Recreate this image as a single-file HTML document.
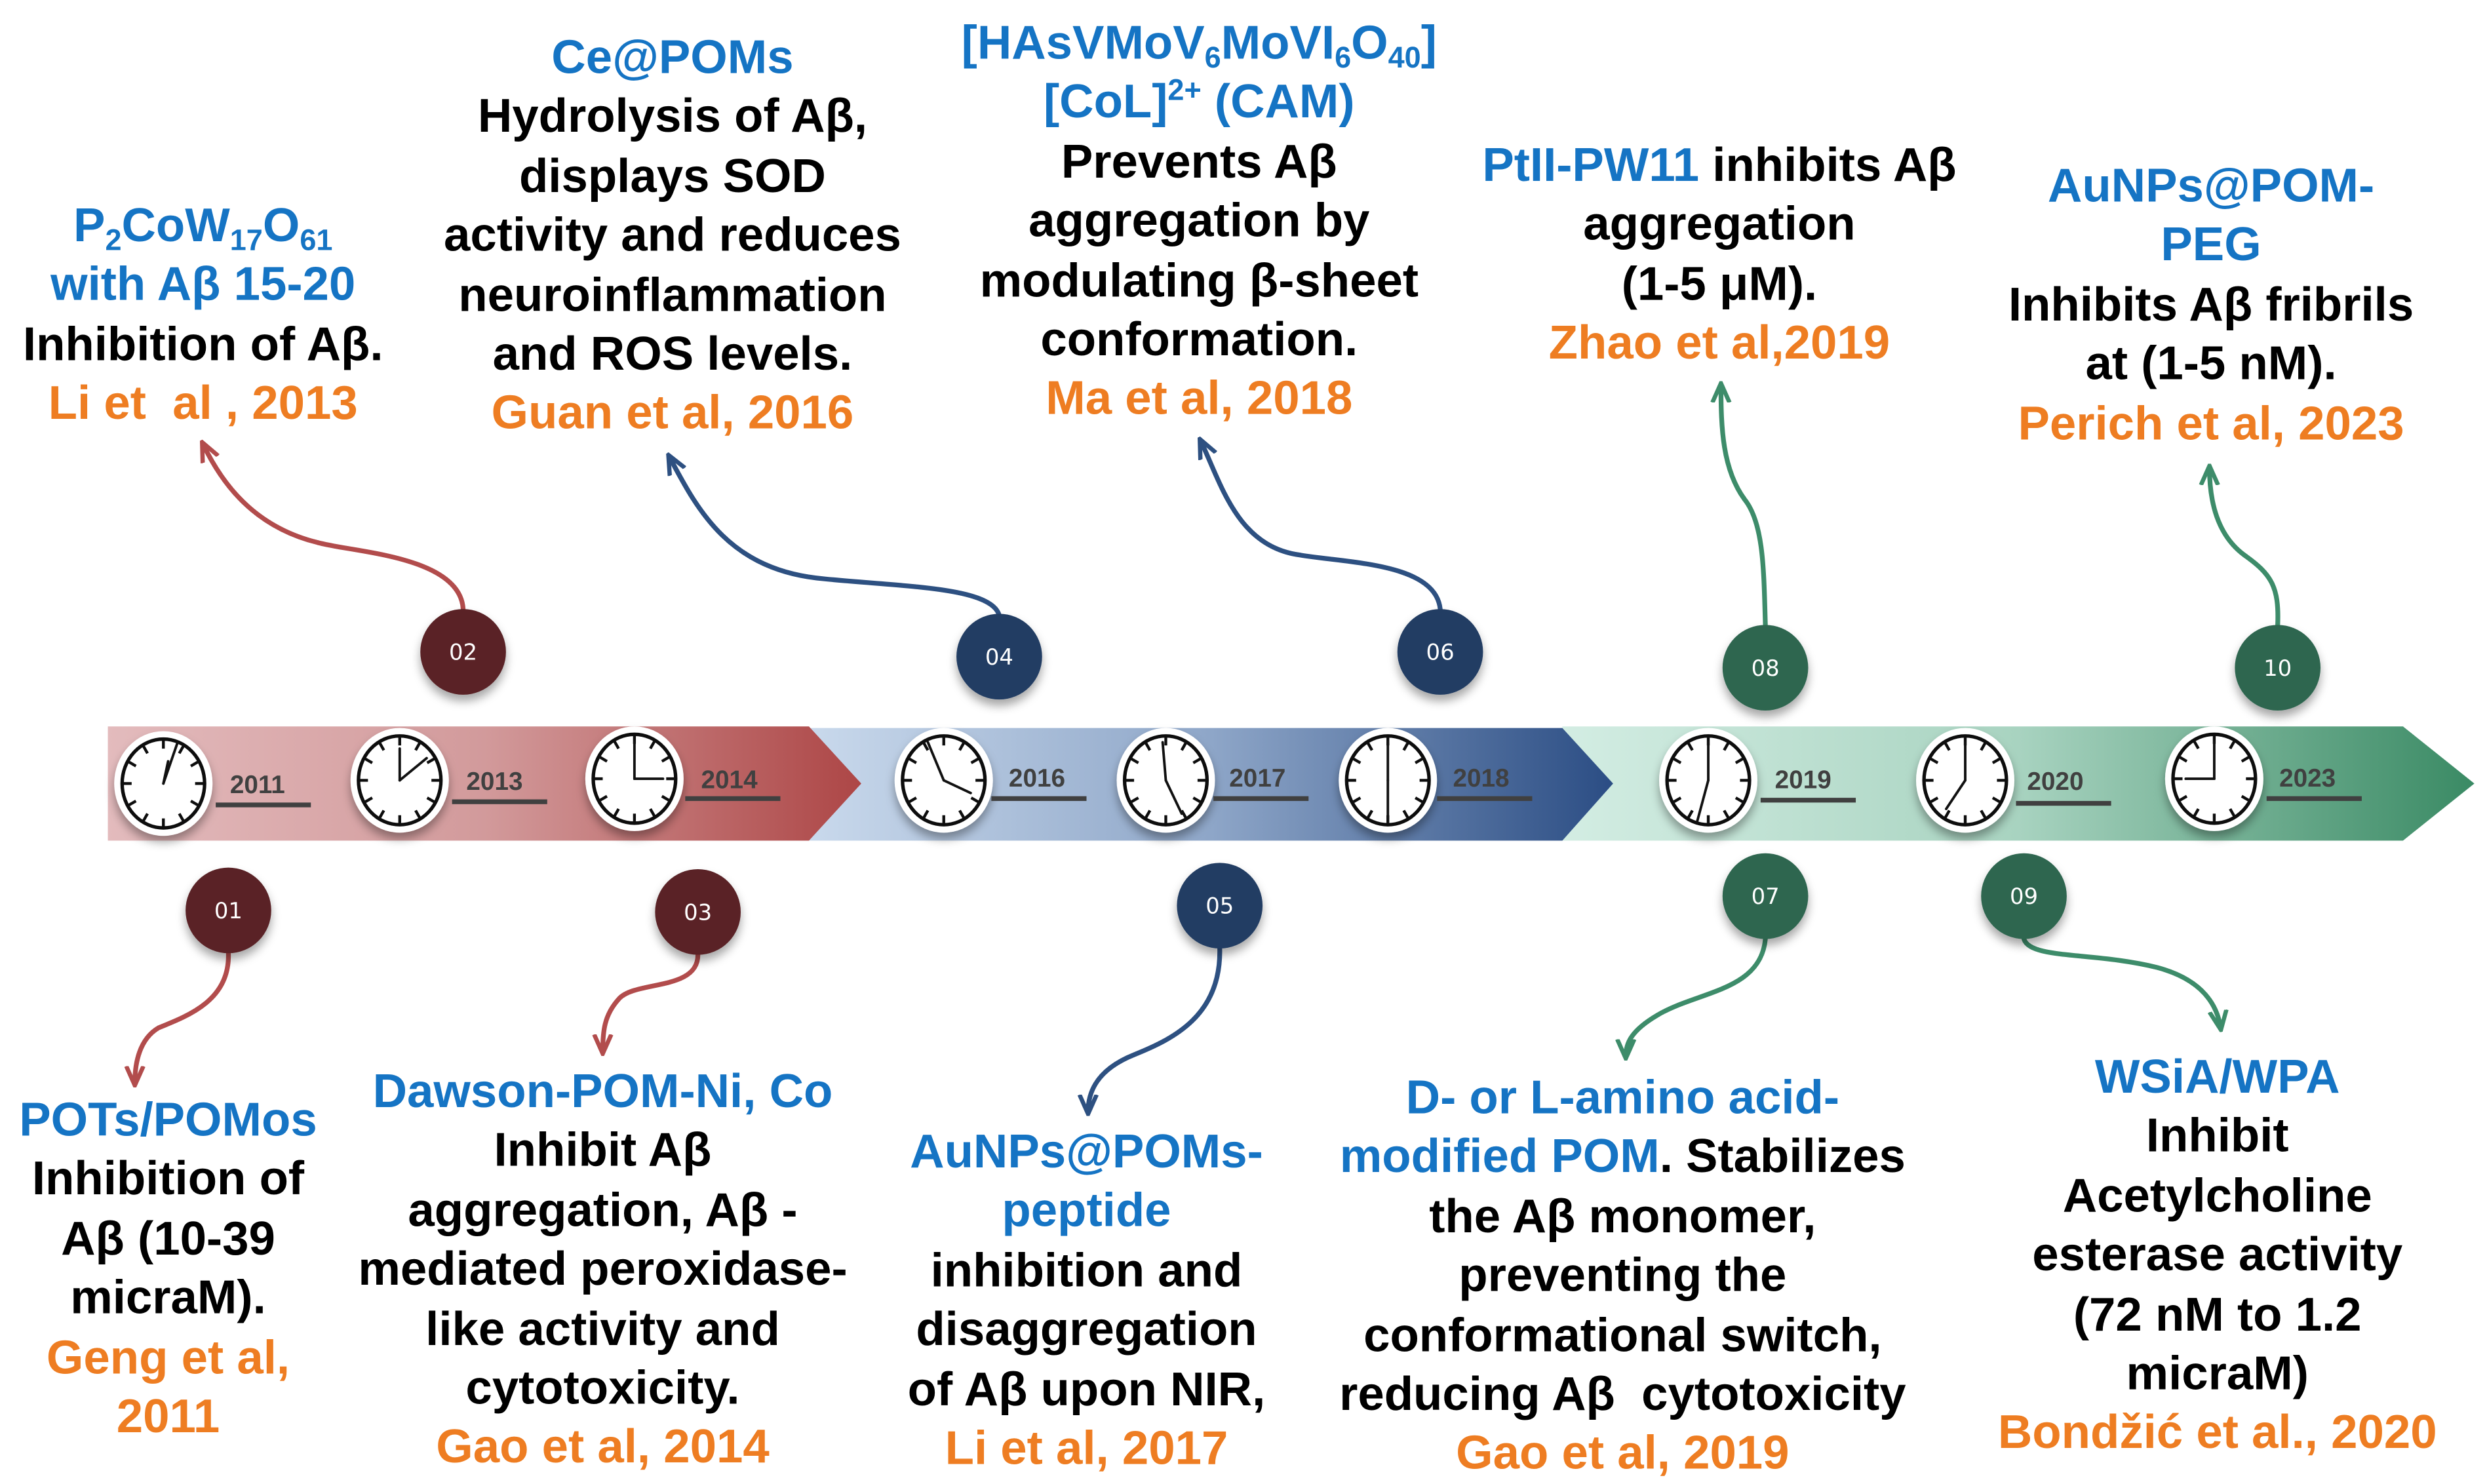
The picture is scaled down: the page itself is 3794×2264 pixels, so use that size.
<!DOCTYPE html>
<html><head><meta charset="utf-8">
<style>
html,body{margin:0;padding:0;background:#fff;}
#wrap{width:3794px;height:2264px;overflow:hidden;position:relative;}
#s{position:absolute;left:0;top:0;width:1568px;height:936px;transform:scale(2.4197);transform-origin:0 0;}
.t{position:absolute;width:460px;text-align:center;font-family:"Liberation Sans",Arial,sans-serif;font-weight:bold;font-size:30px;line-height:37.4px;color:#000;white-space:nowrap;}
.b{color:#1574c4}.o{color:#ee7d22}
sub,sup{font-size:0.62em;line-height:0}
sub{vertical-align:-0.3em}
</style></head><body>
<div id="wrap"><div id="s">
<svg width="1568" height="936" style="position:absolute;left:0;top:0">
<defs>
<linearGradient id="gr" x1="0" x2="1"><stop offset="0" stop-color="#e3bbbd"/><stop offset="0.5" stop-color="#d29a9b"/><stop offset="1" stop-color="#ad4646"/></linearGradient>
<linearGradient id="gb" x1="0" x2="1"><stop offset="0" stop-color="#c9d9ec"/><stop offset="0.5" stop-color="#8ea6c8"/><stop offset="1" stop-color="#2b4d84"/></linearGradient>
<linearGradient id="gg" x1="0" x2="1"><stop offset="0" stop-color="#d3ede3"/><stop offset="0.5" stop-color="#a8d3c0"/><stop offset="1" stop-color="#3a8a64"/></linearGradient>
<filter id="sh" x="-30%" y="-30%" width="160%" height="170%"><feDropShadow dx="0" dy="4" stdDeviation="3" flood-color="#000" flood-opacity="0.35"/></filter>
<g id="clk">
<ellipse cx="0" cy="0" rx="31" ry="33" fill="#fff"/>
<ellipse cx="0" cy="0" rx="26" ry="28" fill="#fff" stroke="#111" stroke-width="2.2"/>
<g stroke="#111" stroke-width="1.8">
<line x1="0" y1="-27" x2="0" y2="-22"/><line x1="0" y1="27" x2="0" y2="22"/><line x1="-25" y1="0" x2="-20" y2="0"/><line x1="25" y1="0" x2="20" y2="0"/>
<line x1="12.5" y1="-23.4" x2="10" y2="-19"/><line x1="21.6" y1="-13.5" x2="17.3" y2="-11"/><line x1="21.6" y1="13.5" x2="17.3" y2="11"/><line x1="12.5" y1="23.4" x2="10" y2="19"/>
<line x1="-12.5" y1="-23.4" x2="-10" y2="-19"/><line x1="-21.6" y1="-13.5" x2="-17.3" y2="-11"/><line x1="-21.6" y1="13.5" x2="-17.3" y2="11"/><line x1="-12.5" y1="23.4" x2="-10" y2="19"/>
</g></g>
<marker id="ar" viewBox="0 0 10 10" refX="8" refY="5" markerWidth="4.5" markerHeight="4.5" orient="auto-start-reverse"><path d="M0,1 L9,5 L0,9" fill="none" stroke="context-stroke" stroke-width="2"/></marker>
</defs>
<polygon points="985,458 1515,458 1560,494 1515,530 985,530" fill="url(#gg)"/>
<polygon points="510,459 985,459 1017,494 985,530 510,530" fill="url(#gb)"/>
<polygon points="68,458 510,458 543,494 510,530 68,530" fill="url(#gr)"/>
<g filter="url(#sh)">
<use href="#clk" x="103" y="494"/><use href="#clk" x="252" y="492"/><use href="#clk" x="400" y="491"/>
<use href="#clk" x="595" y="492"/><use href="#clk" x="735" y="492"/><use href="#clk" x="875" y="492"/>
<use href="#clk" x="1077" y="492"/><use href="#clk" x="1239" y="492"/><use href="#clk" x="1396" y="491"/>
</g>
<g stroke="#111" stroke-width="1.6" stroke-linecap="round">
<line x1="103" y1="494" x2="112" y2="468"/><line x1="103" y1="494" x2="106" y2="480"/>
<line x1="252" y1="492" x2="252" y2="472"/><line x1="252" y1="492" x2="269" y2="478"/>
<line x1="400" y1="491" x2="400" y2="468"/><line x1="400" y1="491" x2="418" y2="491"/>
<line x1="595" y1="492" x2="585" y2="468"/><line x1="595" y1="492" x2="612" y2="500"/>
<line x1="735" y1="492" x2="733" y2="468"/><line x1="735" y1="492" x2="745" y2="513"/>
<line x1="875" y1="492" x2="875" y2="468"/><line x1="875" y1="492" x2="875" y2="516"/>
<line x1="1077" y1="492" x2="1077" y2="468"/><line x1="1077" y1="492" x2="1070" y2="518"/>
<line x1="1239" y1="492" x2="1239" y2="468"/><line x1="1239" y1="492" x2="1227" y2="510"/>
<line x1="1396" y1="491" x2="1396" y2="468"/><line x1="1396" y1="491" x2="1378" y2="491"/>
</g>
<g font-family="Liberation Sans, Arial, sans-serif" font-weight="bold" font-size="16" fill="#404040">
<text x="145" y="500">2011</text><rect x="136" y="506" width="60" height="3" fill="#404040"/>
<text x="294" y="498">2013</text><rect x="285" y="504" width="60" height="3" fill="#404040"/>
<text x="442" y="497">2014</text><rect x="432" y="502" width="60" height="3" fill="#404040"/>
<text x="636" y="496">2016</text><rect x="625" y="502" width="60" height="3" fill="#404040"/>
<text x="775" y="496">2017</text><rect x="765" y="502" width="60" height="3" fill="#404040"/>
<text x="916" y="496">2018</text><rect x="906" y="502" width="60" height="3" fill="#404040"/>
<text x="1119" y="497">2019</text><rect x="1110" y="503" width="60" height="3" fill="#404040"/>
<text x="1278" y="498">2020</text><rect x="1271" y="505" width="60" height="3" fill="#404040"/>
<text x="1437" y="496">2023</text><rect x="1429" y="502" width="60" height="3" fill="#404040"/>
</g>
<g fill="none" stroke-width="3" stroke-linecap="round" marker-end="url(#ar)">
<path d="M292,384 C290,350 220,348 200,342 C160,332 140,305 128,280" stroke="#b24c4c"/>
<path d="M630,388 C625,370 570,370 520,365 C460,360 440,322 422,288" stroke="#2d5081"/>
<path d="M908,384 C905,355 850,355 820,350 C780,345 770,305 757,278" stroke="#2d5081"/>
<path d="M1113,394 C1112,360 1112,330 1100,315 C1086,296 1085,270 1085,243" stroke="#3d8c6a"/>
<path d="M1436,394 C1437,370 1432,362 1415,350 C1396,336 1393,312 1393,295" stroke="#3d8c6a"/>
<path d="M144,601 C145,630 120,640 100,648 C88,655 85,670 85,683" stroke="#b24c4c"/>
<path d="M440,602 C440,625 400,618 390,630 C381,640 380,650 380,663" stroke="#b24c4c"/>
<path d="M769,598 C770,640 740,655 715,665 C690,675 686,690 686,701" stroke="#2d5081"/>
<path d="M1113,592 C1110,625 1070,625 1045,640 C1028,650 1025,658 1025,666" stroke="#3d8c6a"/>
<path d="M1276,592 C1280,605 1320,600 1360,610 C1390,618 1398,635 1400,648" stroke="#3d8c6a"/>
</g>
<g filter="url(#sh)">
<circle cx="292" cy="411" r="27" fill="#5a2426"/><circle cx="630" cy="414" r="27" fill="#213c63"/>
<circle cx="908" cy="411" r="27" fill="#213c63"/><circle cx="1113" cy="421" r="27" fill="#2d6650"/>
<circle cx="1436" cy="421" r="27" fill="#2d6650"/>
<circle cx="144" cy="574" r="27" fill="#5a2426"/><circle cx="440" cy="575" r="27" fill="#5a2426"/>
<circle cx="769" cy="571" r="27" fill="#213c63"/><circle cx="1113" cy="565" r="27" fill="#2d6650"/>
<circle cx="1276" cy="565" r="27" fill="#2d6650"/>
</g>
<g font-family="DejaVu Sans, sans-serif" font-size="14" fill="#fff" text-anchor="middle">
<text x="292" y="416">02</text><text x="630" y="419">04</text><text x="908" y="416">06</text><text x="1113" y="426">08</text><text x="1436" y="426">10</text>
<text x="144" y="579">01</text><text x="440" y="580">03</text><text x="769" y="576">05</text><text x="1113" y="570">07</text><text x="1276" y="570">09</text>
</g>
</svg>

<div class="t" style="left:-102px;top:124px"><span class="b">P<sub>2</sub>CoW<sub>17</sub>O<sub>61</sub></span><br><span class="b">with Aβ 15-20</span><br>Inhibition of Aβ.<br><span class="o">Li et&nbsp; al , 2013</span></div>
<div class="t" style="left:194px;top:18px"><span class="b">Ce@POMs</span><br>Hydrolysis of Aβ,<br>displays SOD<br>activity and reduces<br>neuroinflammation<br>and ROS levels.<br><span class="o">Guan et al, 2016</span></div>
<div class="t" style="left:526px;top:9px"><span class="b">[HAsVMoV<sub>6</sub>MoVI<sub>6</sub>O<sub>40</sub>]</span><br><span class="b">[CoL]<sup>2+</sup> (CAM)</span><br>Prevents Aβ<br>aggregation by<br>modulating β-sheet<br>conformation.<br><span class="o">Ma et al, 2018</span></div>
<div class="t" style="left:854px;top:86px"><span class="b">PtII-PW11</span> inhibits Aβ<br>aggregation<br>(1-5 μM).<br><span class="o">Zhao et al,2019</span></div>
<div class="t" style="left:1164px;top:99px"><span class="b">AuNPs@POM-</span><br><span class="b">PEG</span><br>Inhibits Aβ fribrils<br>at (1-5 nM).<br><span class="o">Perich et al, 2023</span></div>

<div class="t" style="left:-124px;top:688px"><span class="b">POTs/POMos</span><br>Inhibition of<br>Aβ (10-39<br>micraM).<br><span class="o">Geng et al,<br>2011</span></div>
<div class="t" style="left:150px;top:670px"><span class="b">Dawson-POM-Ni, Co</span><br>Inhibit Aβ<br>aggregation, Aβ -<br>mediated peroxidase-<br>like activity and<br>cytotoxicity.<br><span class="o">Gao et al, 2014</span></div>
<div class="t" style="left:455px;top:708px"><span class="b">AuNPs@POMs-</span><br><span class="b">peptide</span><br>inhibition and<br>disaggregation<br>of Aβ upon NIR,<br><span class="o">Li et al, 2017</span></div>
<div class="t" style="left:793px;top:674px"><span class="b">D- or L-amino acid-</span><br><span class="b">modified POM</span>. Stabilizes<br>the Aβ monomer,<br>preventing the<br>conformational switch,<br>reducing Aβ&nbsp; cytotoxicity<br><span class="o">Gao et al, 2019</span></div>
<div class="t" style="left:1168px;top:661px"><span class="b">WSiA/WPA</span><br>Inhibit<br>Acetylcholine<br>esterase activity<br>(72 nM to 1.2<br>micraM)<br><span class="o">Bondžić et al., 2020</span></div>
</div></div>
</body></html>
